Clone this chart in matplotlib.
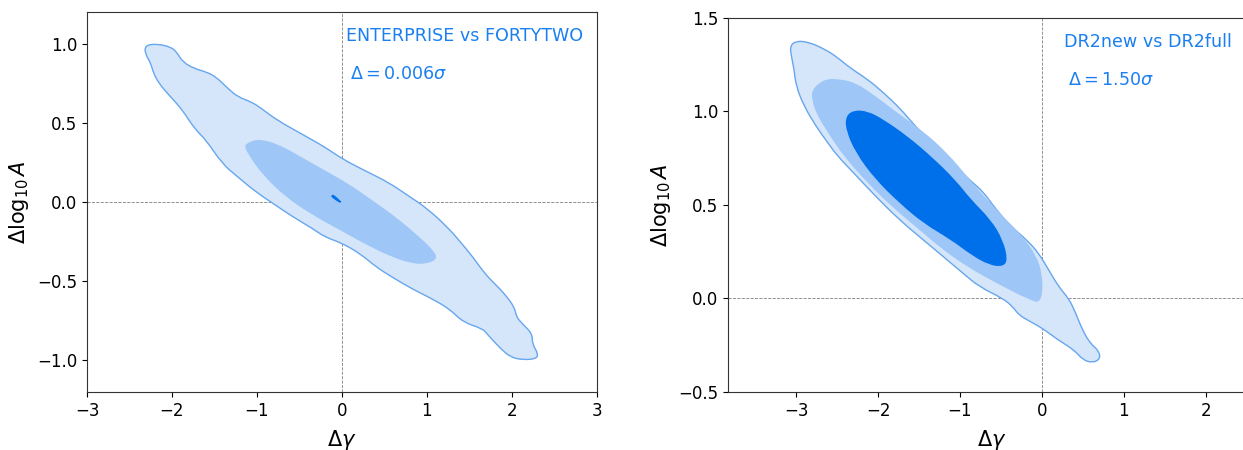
import matplotlib.pyplot as plt
import numpy as np
from matplotlib.path import Path
from matplotlib.patches import PathPatch

# contour outlines (x = dgamma, y = dlog10A)
# left panel: ENTERPRISE vs FORTYTWO
left_outer_x = [-2.316, -2.177, -2.014, -1.944, -1.874, -1.735, -1.595, -1.479, -1.340, -1.223,
                -1.060, -0.944, -0.758, -0.479, -0.200, 0.000, 0.265, 0.544, 0.777, 1.009,
                1.242, 1.381, 1.544, 1.684, 1.800, 1.916, 2.033, 2.056, 2.126, 2.242,
                2.242, 2.312, 2.288, 2.126, 1.986, 1.870, 1.707, 1.660, 1.428, 1.288,
                1.102, 0.823, 0.591, 0.405, 0.219, 0.000, -0.200, -0.340, -0.572, -0.805,
                -1.037, -1.223, -1.409, -1.595, -1.735, -1.874, -2.014, -2.153, -2.223, -2.247,
                -2.316]
left_outer_y = [0.990, 1.000, 0.980, 0.948, 0.885, 0.843, 0.822, 0.790, 0.717, 0.664,
                0.632, 0.590, 0.516, 0.432, 0.348, 0.274, 0.200, 0.126, 0.042, -0.042,
                -0.158, -0.242, -0.348, -0.453, -0.516, -0.580, -0.664, -0.727, -0.769, -0.832,
                -0.896, -0.959, -0.991, -0.997, -0.980, -0.927, -0.832, -0.801, -0.759, -0.685,
                -0.622, -0.548, -0.474, -0.411, -0.327, -0.259, -0.221, -0.169, -0.095, -0.011,
                0.074, 0.158, 0.242, 0.390, 0.464, 0.580, 0.664, 0.748, 0.822, 0.875,
                0.938]
left_mid_x = [-1.130, -0.991, -0.758, -0.479, -0.200, 0.079, 0.358, 0.637, 0.916, 1.079,
              1.126, 1.009, 0.823, 0.544, 0.265, -0.014, -0.340, -0.665, -0.944, -1.107,
              -1.140]
left_mid_y = [0.369, 0.400, 0.369, 0.285, 0.200, 0.116, 0.011, -0.095, -0.221, -0.306,
              -0.358, -0.390, -0.390, -0.337, -0.263, -0.179, -0.084, 0.032, 0.179, 0.306,
              0.348]
left_in_x = [-0.120, -0.100, -0.020, -0.010, -0.030, -0.110]
left_in_y = [0.040, 0.045, 0.005, 0.000, 0.000, 0.030]

# right panel: DR2new vs DR2full
right_outer_x = [-3.073, -3.000, -2.854, -2.660, -2.490, -2.345, -2.126, -1.932, -1.738, -1.544,
                 -1.350, -1.155, -1.010, -0.864, -0.718, -0.573, -0.379, -0.184, -0.039, 0.083,
                 0.204, 0.325, 0.398, 0.495, 0.592, 0.689, 0.714, 0.617, 0.495, 0.398,
                 0.204, 0.010, -0.136, -0.282, -0.354, -0.476, -0.767, -0.961, -1.204, -1.447,
                 -1.738, -2.029, -2.296, -2.490, -2.612, -2.757, -2.903, -3.000, -3.024, -3.058]
right_outer_y = [1.351, 1.377, 1.372, 1.336, 1.288, 1.234, 1.172, 1.100, 1.020, 0.921,
                 0.832, 0.760, 0.689, 0.626, 0.572, 0.483, 0.385, 0.313, 0.242, 0.152,
                 0.063, 0.000, -0.063, -0.170, -0.242, -0.277, -0.322, -0.345, -0.327, -0.277,
                 -0.224, -0.161, -0.125, -0.089, -0.045, 0.000, 0.063, 0.134, 0.224, 0.313,
                 0.420, 0.546, 0.671, 0.760, 0.832, 0.921, 1.029, 1.136, 1.225, 1.297]
right_mid_x = [-2.806, -2.660, -2.490, -2.272, -2.029, -1.738, -1.447, -1.155, -0.913, -0.743,
               -0.476, -0.233, -0.063, 0.000, 0.010, -0.039, -0.136, -0.354, -0.621, -0.913,
               -1.204, -1.495, -1.835, -2.126, -2.417, -2.612, -2.757, -2.806]
right_mid_y = [1.118, 1.172, 1.175, 1.154, 1.082, 0.984, 0.894, 0.778, 0.653, 0.564,
               0.438, 0.331, 0.224, 0.134, 0.027, -0.023, -0.009, 0.036, 0.098, 0.170,
               0.259, 0.367, 0.492, 0.617, 0.760, 0.886, 0.993, 1.064]
right_in_x = [-2.393, -2.296, -2.126, -1.932, -1.641, -1.350, -1.058, -0.864, -0.621, -0.476,
              -0.417, -0.476, -0.646, -0.864, -1.107, -1.447, -1.738, -2.029, -2.272, -2.393]
right_in_y = [0.975, 1.007, 1.002, 0.957, 0.868, 0.760, 0.635, 0.528, 0.420, 0.313,
              0.206, 0.170, 0.179, 0.233, 0.313, 0.402, 0.510, 0.635, 0.778, 0.903]

titles = ['ENTERPRISE vs FORTYTWO', 'DR2new vs DR2full']
deltas = [r'$\Delta = 0.006\sigma$', r'$\Delta = 1.50\sigma$']

c_light = '#d5e6fb'
c_mid = '#9ec6f6'
c_dark = '#0070ea'
c_edge = '#66a6ee'
c_text = '#1a7ff0'


def smooth_patch(xs, ys, **kw):
    # closed outline drawn with quadratic bezier segments through the read vertices
    p = np.column_stack([xs, ys])
    m = (p + np.roll(p, -1, axis=0)) / 2
    verts = [m[-1]]
    codes = [Path.MOVETO]
    for i in range(len(p)):
        verts += [p[i], m[i]]
        codes += [Path.CURVE3, Path.CURVE3]
    verts.append(m[-1])
    codes.append(Path.CLOSEPOLY)
    return PathPatch(Path(verts, codes), **kw)


fig = plt.figure(figsize=(12.43, 4.5), dpi=100)
ax1 = fig.add_axes([0.070, 0.129, 0.410, 0.844])
ax2 = fig.add_axes([0.5857, 0.129, 0.424, 0.831])

# left
ax1.add_patch(smooth_patch(left_outer_x, left_outer_y, facecolor=c_light, edgecolor=c_edge, lw=1.0, zorder=1))
ax1.add_patch(smooth_patch(left_mid_x, left_mid_y, facecolor=c_mid, edgecolor='none', zorder=2))
ax1.add_patch(smooth_patch(left_in_x, left_in_y, facecolor=c_dark, edgecolor=c_dark, lw=0.8, zorder=3))
ax1.set_xlim(-3, 3)
ax1.set_ylim(-1.2, 1.2)
ax1.set_xticks([-3, -2, -1, 0, 1, 2, 3])
ax1.set_yticks([-1.0, -0.5, 0.0, 0.5, 1.0])
ax1.text(0.05, 1.05, titles[0], color=c_text, fontsize=12.6, va='center')
ax1.text(0.1, 0.81, deltas[0], color=c_text, fontsize=12.6, va='center')

# right
ax2.add_patch(smooth_patch(right_outer_x, right_outer_y, facecolor=c_light, edgecolor=c_edge, lw=1.0, zorder=1))
ax2.add_patch(smooth_patch(right_mid_x, right_mid_y, facecolor=c_mid, edgecolor='none', zorder=2))
ax2.add_patch(smooth_patch(right_in_x, right_in_y, facecolor=c_dark, edgecolor='none', zorder=3))
ax2.set_xlim(-3.83, 2.6)
ax2.set_ylim(-0.5, 1.5)
ax2.set_xticks([-3, -2, -1, 0, 1, 2])
ax2.set_yticks([-0.5, 0.0, 0.5, 1.0, 1.5])
ax2.text(0.27, 1.374, titles[1], color=c_text, fontsize=12.6, va='center')
ax2.text(0.32, 1.166, deltas[1], color=c_text, fontsize=12.6, va='center')

for ax in (ax1, ax2):
    ax.axhline(0, color='gray', ls='--', lw=0.6, zorder=0.5)
    ax.axvline(0, color='gray', ls='--', lw=0.6, zorder=0.5)
    ax.set_xlabel(r'$\Delta\gamma$', fontsize=15, labelpad=6)
    ax.set_ylabel(r'$\Delta\log_{10}A$', fontsize=15)
    ax.tick_params(labelsize=12)
    for s in ax.spines.values():
        s.set_color('#333333')

fig.savefig('out.png', dpi=100)
